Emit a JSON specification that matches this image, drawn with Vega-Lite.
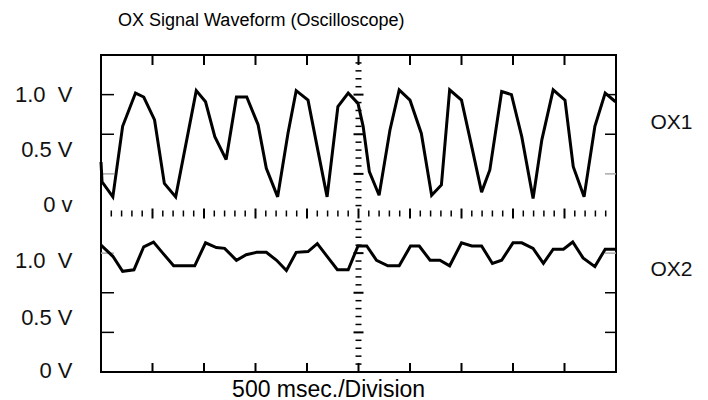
{
  "$schema": "https://vega.github.io/schema/vega-lite/v6.json",
  "width": 515,
  "height": 317,
  "autosize": {"type": "none"},
  "padding": {"left": 101, "top": 55, "right": 92, "bottom": 28},
  "background": "white",
  "config": {
    "view": {"stroke": "#000", "strokeWidth": 2},
    "font": "Liberation Sans"
  },
  "title": {
    "text": "OX Signal Waveform (Oscilloscope)",
    "anchor": "start",
    "frame": "group",
    "dx": 17,
    "offset": 11,
    "baseline": "alphabetic",
    "fontSize": 18,
    "fontWeight": "normal",
    "font": "Liberation Sans",
    "color": "#000"
  },
  "datasets": {
    "ox1": [
      {"t": 0.00, "v": 0.15}, {"t": 0.02, "v": -0.10}, {"t": 0.23, "v": -0.29}, {"t": 0.42, "v": 0.60},
      {"t": 0.67, "v": 1.02}, {"t": 0.83, "v": 0.97}, {"t": 1.04, "v": 0.68}, {"t": 1.23, "v": -0.12},
      {"t": 1.45, "v": -0.29}, {"t": 1.85, "v": 1.05}, {"t": 2.03, "v": 0.91}, {"t": 2.21, "v": 0.47},
      {"t": 2.43, "v": 0.18}, {"t": 2.63, "v": 0.97}, {"t": 2.83, "v": 0.97}, {"t": 3.05, "v": 0.62},
      {"t": 3.21, "v": 0.07}, {"t": 3.43, "v": -0.29}, {"t": 3.63, "v": 0.51}, {"t": 3.79, "v": 1.05},
      {"t": 4.02, "v": 0.93}, {"t": 4.21, "v": 0.30}, {"t": 4.39, "v": -0.29}, {"t": 4.60, "v": 0.85},
      {"t": 4.80, "v": 1.02}, {"t": 4.99, "v": 0.89}, {"t": 5.09, "v": 0.60}, {"t": 5.21, "v": 0.03},
      {"t": 5.40, "v": -0.27}, {"t": 5.61, "v": 0.55}, {"t": 5.79, "v": 1.06}, {"t": 6.00, "v": 0.93},
      {"t": 6.22, "v": 0.51}, {"t": 6.42, "v": -0.27}, {"t": 6.61, "v": -0.14}, {"t": 6.77, "v": 1.06},
      {"t": 7.00, "v": 0.93}, {"t": 7.20, "v": 0.34}, {"t": 7.39, "v": -0.23}, {"t": 7.55, "v": 0.05},
      {"t": 7.78, "v": 1.04}, {"t": 7.97, "v": 1.00}, {"t": 8.17, "v": 0.47}, {"t": 8.39, "v": -0.31},
      {"t": 8.56, "v": 0.43}, {"t": 8.78, "v": 1.06}, {"t": 9.01, "v": 0.93}, {"t": 9.17, "v": 0.09},
      {"t": 9.38, "v": -0.29}, {"t": 9.59, "v": 0.60}, {"t": 9.79, "v": 1.02}, {"t": 9.99, "v": 0.91}
    ],
    "ox2": [
      {"t": 0.00, "v": 1.10}, {"t": 0.23, "v": 0.96}, {"t": 0.42, "v": 0.77}, {"t": 0.64, "v": 0.79},
      {"t": 0.83, "v": 1.08}, {"t": 1.02, "v": 1.14}, {"t": 1.20, "v": 1.00}, {"t": 1.41, "v": 0.84},
      {"t": 1.62, "v": 0.84}, {"t": 1.82, "v": 0.84}, {"t": 2.03, "v": 1.13}, {"t": 2.24, "v": 1.07},
      {"t": 2.40, "v": 1.06}, {"t": 2.63, "v": 0.91}, {"t": 2.82, "v": 0.98}, {"t": 3.02, "v": 1.01},
      {"t": 3.21, "v": 1.01}, {"t": 3.41, "v": 0.91}, {"t": 3.60, "v": 0.78}, {"t": 3.79, "v": 1.01},
      {"t": 4.02, "v": 1.02}, {"t": 4.20, "v": 1.12}, {"t": 4.39, "v": 0.96}, {"t": 4.59, "v": 0.79},
      {"t": 4.80, "v": 0.79}, {"t": 4.99, "v": 1.09}, {"t": 5.16, "v": 1.09}, {"t": 5.35, "v": 0.91},
      {"t": 5.57, "v": 0.84}, {"t": 5.79, "v": 0.84}, {"t": 6.01, "v": 1.09}, {"t": 6.18, "v": 1.09},
      {"t": 6.39, "v": 0.91}, {"t": 6.58, "v": 0.91}, {"t": 6.77, "v": 0.84}, {"t": 7.00, "v": 1.13},
      {"t": 7.20, "v": 1.09}, {"t": 7.39, "v": 1.09}, {"t": 7.60, "v": 0.87}, {"t": 7.78, "v": 0.91},
      {"t": 8.00, "v": 1.13}, {"t": 8.17, "v": 1.13}, {"t": 8.39, "v": 1.06}, {"t": 8.59, "v": 0.87},
      {"t": 8.78, "v": 1.05}, {"t": 8.98, "v": 1.05}, {"t": 9.16, "v": 1.14}, {"t": 9.36, "v": 0.94},
      {"t": 9.59, "v": 0.83}, {"t": 9.79, "v": 1.05}, {"t": 9.99, "v": 1.05}
    ],
    "hminor": [
      {"x": 0.2}, {"x": 0.4}, {"x": 0.6}, {"x": 0.8}, {"x": 1.2}, {"x": 1.4}, {"x": 1.6}, {"x": 1.8},
      {"x": 2.2}, {"x": 2.4}, {"x": 2.6}, {"x": 2.8}, {"x": 3.2}, {"x": 3.4}, {"x": 3.6}, {"x": 3.8},
      {"x": 4.2}, {"x": 4.4}, {"x": 4.6}, {"x": 4.8}, {"x": 5.2}, {"x": 5.4}, {"x": 5.6}, {"x": 5.8},
      {"x": 6.2}, {"x": 6.4}, {"x": 6.6}, {"x": 6.8}, {"x": 7.2}, {"x": 7.4}, {"x": 7.6}, {"x": 7.8},
      {"x": 8.2}, {"x": 8.4}, {"x": 8.6}, {"x": 8.8}, {"x": 9.2}, {"x": 9.4}, {"x": 9.6}, {"x": 9.8}
    ],
    "divs": [
      {"x": 1}, {"x": 2}, {"x": 3}, {"x": 4}, {"x": 5}, {"x": 6}, {"x": 7}, {"x": 8}, {"x": 9}
    ],
    "vminor": [
      {"u": 0.1}, {"u": 0.2}, {"u": 0.3}, {"u": 0.4}, {"u": 0.6}, {"u": 0.7}, {"u": 0.8}, {"u": 0.9},
      {"u": 1.1}, {"u": 1.2}, {"u": 1.3}, {"u": 1.4}, {"u": 1.6}, {"u": 1.7}, {"u": 1.8}, {"u": 1.9},
      {"u": 2.1}, {"u": 2.2}, {"u": 2.3}, {"u": 2.4}, {"u": 2.6}, {"u": 2.7}, {"u": 2.8}, {"u": 2.9},
      {"u": 3.1}, {"u": 3.2}, {"u": 3.3}, {"u": 3.4}, {"u": 3.6}, {"u": 3.7}, {"u": 3.8}, {"u": 3.9}
    ],
    "vmajor": [
      {"u": 0.5}, {"u": 1.0}, {"u": 1.5}, {"u": 2.5}, {"u": 3.0}, {"u": 3.5}
    ],
    "levels": [
      {"u": 0.5}, {"u": 1.0}, {"u": 3.0}, {"u": 3.5}
    ],
    "zeros": [
      {"u": 1.5}, {"u": 2.5}
    ]
  },
  "resolve": {"scale": {"y": "independent"}, "axis": {"x": "independent"}},
  "layer": [
    {
      "layer": [
        {
          "mark": {"type": "rule", "color": "#000", "strokeWidth": 2},
          "encoding": {
            "y": {"datum": 2, "type": "quantitative", "scale": {"domain": [0, 4], "nice": false, "zero": false}, "axis": null}
          }
        },
        {
          "mark": {"type": "rule", "color": "#000", "strokeWidth": 2},
          "encoding": {
            "x": {"datum": 5, "type": "quantitative", "scale": {"domain": [0, 10], "nice": false, "zero": false}, "axis": null}
          }
        },
        {
          "data": {"name": "hminor"},
          "mark": {"type": "tick", "orient": "vertical", "color": "#000", "opacity": 1, "size": 6, "thickness": 1.5},
          "encoding": {
            "x": {"field": "x", "type": "quantitative", "scale": {"domain": [0, 10], "nice": false, "zero": false}, "axis": null},
            "y": {"datum": 2, "type": "quantitative", "scale": {"domain": [0, 4], "nice": false, "zero": false}, "axis": null}
          }
        },
        {
          "data": {"name": "divs"},
          "mark": {"type": "tick", "orient": "vertical", "color": "#000", "opacity": 1, "size": 10, "thickness": 2},
          "encoding": {
            "x": {"field": "x", "type": "quantitative", "scale": {"domain": [0, 10], "nice": false, "zero": false}, "axis": null},
            "y": {"datum": 2, "type": "quantitative", "scale": {"domain": [0, 4], "nice": false, "zero": false}, "axis": null}
          }
        },
        {
          "data": {"name": "vminor"},
          "mark": {"type": "tick", "orient": "horizontal", "color": "#000", "opacity": 1, "size": 6, "thickness": 1.5},
          "encoding": {
            "x": {"datum": 5, "type": "quantitative", "scale": {"domain": [0, 10], "nice": false, "zero": false}, "axis": null},
            "y": {"field": "u", "type": "quantitative", "scale": {"domain": [0, 4], "nice": false, "zero": false}, "axis": null}
          }
        },
        {
          "data": {"name": "vmajor"},
          "mark": {"type": "tick", "orient": "horizontal", "color": "#000", "opacity": 1, "size": 10, "thickness": 2},
          "encoding": {
            "x": {"datum": 5, "type": "quantitative", "scale": {"domain": [0, 10], "nice": false, "zero": false}, "axis": null},
            "y": {"field": "u", "type": "quantitative", "scale": {"domain": [0, 4], "nice": false, "zero": false}, "axis": null}
          }
        },
        {
          "data": {"name": "divs"},
          "mark": {"type": "tick", "orient": "vertical", "color": "#000", "opacity": 1, "size": 10, "thickness": 2, "yOffset": 5},
          "encoding": {
            "x": {"field": "x", "type": "quantitative", "scale": {"domain": [0, 10], "nice": false, "zero": false}, "axis": null},
            "y": {"datum": 4, "type": "quantitative", "scale": {"domain": [0, 4], "nice": false, "zero": false}, "axis": null}
          }
        },
        {
          "data": {"name": "divs"},
          "mark": {"type": "tick", "orient": "vertical", "color": "#000", "opacity": 1, "size": 9, "thickness": 2, "yOffset": -4.5},
          "encoding": {
            "x": {"field": "x", "type": "quantitative", "scale": {"domain": [0, 10], "nice": false, "zero": false}, "axis": null},
            "y": {"datum": 0, "type": "quantitative", "scale": {"domain": [0, 4], "nice": false, "zero": false}, "axis": null}
          }
        },
        {
          "data": {"name": "levels"},
          "mark": {"type": "tick", "orient": "horizontal", "color": "#000", "opacity": 1, "size": 13, "thickness": 1.5, "xOffset": 6.5},
          "encoding": {
            "x": {"datum": 0, "type": "quantitative", "scale": {"domain": [0, 10], "nice": false, "zero": false}, "axis": null},
            "y": {"field": "u", "type": "quantitative", "scale": {"domain": [0, 4], "nice": false, "zero": false}, "axis": null}
          }
        },
        {
          "data": {"name": "zeros"},
          "mark": {"type": "tick", "orient": "horizontal", "color": "#aaa", "opacity": 1, "size": 13, "thickness": 1.5, "xOffset": 6.5},
          "encoding": {
            "x": {"datum": 0, "type": "quantitative", "scale": {"domain": [0, 10], "nice": false, "zero": false}, "axis": null},
            "y": {"field": "u", "type": "quantitative", "scale": {"domain": [0, 4], "nice": false, "zero": false}, "axis": null}
          }
        },
        {
          "data": {"name": "levels"},
          "mark": {"type": "tick", "orient": "horizontal", "color": "#000", "opacity": 1, "size": 11, "thickness": 1.5, "xOffset": -5.5},
          "encoding": {
            "x": {"datum": 10, "type": "quantitative", "scale": {"domain": [0, 10], "nice": false, "zero": false}, "axis": null},
            "y": {"field": "u", "type": "quantitative", "scale": {"domain": [0, 4], "nice": false, "zero": false}, "axis": null}
          }
        },
        {
          "data": {"name": "zeros"},
          "mark": {"type": "tick", "orient": "horizontal", "color": "#aaa", "opacity": 1, "size": 11, "thickness": 1.5, "xOffset": -5.5},
          "encoding": {
            "x": {"datum": 10, "type": "quantitative", "scale": {"domain": [0, 10], "nice": false, "zero": false}, "axis": null},
            "y": {"field": "u", "type": "quantitative", "scale": {"domain": [0, 4], "nice": false, "zero": false}, "axis": null}
          }
        }
      ]
    },
    {
      "data": {"name": "ox1"},
      "mark": {"type": "line", "color": "#000", "strokeWidth": 3, "strokeJoin": "miter", "strokeMiterLimit": 3},
      "encoding": {
        "x": {
          "field": "t", "type": "quantitative",
          "scale": {"domain": [0, 10], "nice": false, "zero": false},
          "axis": {
            "orient": "bottom", "values": [4.41], "labelExpr": "'500 msec./Division'",
            "ticks": false, "tickSize": 0, "domain": false, "grid": false, "title": null,
            "labelPadding": 6, "labelFontSize": 23, "labelFont": "Liberation Sans", "labelColor": "#000",
            "labelAlign": "center", "labelBaseline": "top", "labelFlush": false, "labelOverlap": false,
            "labelLimit": 0
          }
        },
        "y": {
          "field": "v", "type": "quantitative",
          "scale": {"domain": [-2.5, 1.5], "nice": false, "zero": false},
          "axis": {
            "orient": "left",
            "values": [1.005, 0.313, -0.383, -1.097, -1.812, -2.475],
            "labelExpr": "datum.value > 0.8 ? '1.0\u00a0 V' : datum.value > 0 ? '0.5 V' : datum.value > -0.6 ? '0 v' : datum.value > -1.4 ? '1.0\u00a0 V' : datum.value > -2.1 ? '0.5 V' : '0 V'",
            "ticks": false, "tickSize": 0, "domain": false, "grid": false, "title": null,
            "labelPadding": 29, "labelAlign": "right", "labelFontSize": 22, "labelFont": "Liberation Sans",
            "labelColor": "#111", "labelFlush": false, "labelOverlap": false, "labelBaseline": "middle"
          }
        }
      }
    },
    {
      "data": {"name": "ox2"},
      "mark": {"type": "line", "color": "#000", "strokeWidth": 3, "strokeJoin": "miter", "strokeMiterLimit": 3},
      "encoding": {
        "x": {"field": "t", "type": "quantitative", "scale": {"domain": [0, 10], "nice": false, "zero": false}, "axis": null},
        "y": {
          "field": "v", "type": "quantitative",
          "scale": {"domain": [-0.5, 3.5], "nice": false, "zero": false},
          "axis": {
            "orient": "right", "values": [2.644, 0.793],
            "labelExpr": "datum.value > 2 ? 'OX1' : 'OX2'",
            "ticks": false, "tickSize": 0, "domain": false, "grid": false, "title": null,
            "labelPadding": 34, "labelAlign": "left", "labelBaseline": "middle",
            "labelFontSize": 21, "labelFont": "Liberation Sans", "labelColor": "#111",
            "labelFlush": false, "labelOverlap": false
          }
        }
      }
    }
  ]
}
